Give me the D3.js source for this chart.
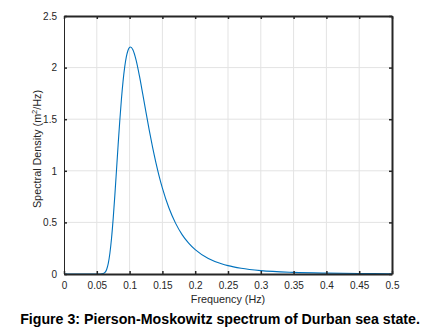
<!DOCTYPE html>
<html>
<head>
<meta charset="utf-8">
<script src="https://cdn.jsdelivr.net/npm/d3@7"></script>
<style>
  body { margin: 0; background: #fff; }
  svg { display: block; font-family: Arial, "Liberation Sans", sans-serif; }
</style>
</head>
<body>
<svg id="chart" width="435" height="335"></svg>
<script>
// frequency (Hz) and spectral density (m^2/Hz)
const freq = [0, 0.05, 0.055, 0.06, 0.0625, 0.065, 0.0675, 0.07, 0.0725, 0.075, 0.0775,
    0.08, 0.0825, 0.085, 0.0875, 0.09, 0.0925, 0.095, 0.0975, 0.1, 0.1013, 0.105, 0.11,
    0.115, 0.12, 0.125, 0.13, 0.135, 0.14, 0.145, 0.15, 0.16, 0.17, 0.18, 0.19, 0.2,
    0.22, 0.24, 0.25, 0.27, 0.3, 0.35, 0.4, 0.45, 0.5];
const density = [0, 0, 0.0001, 0.004, 0.015, 0.044, 0.103, 0.203, 0.349, 0.539, 0.762,
    1.005, 1.250, 1.483, 1.691, 1.866, 2.004, 2.103, 2.166, 2.196, 2.2, 2.173, 2.070,
    1.919, 1.745, 1.566, 1.392, 1.229, 1.082, 0.949, 0.832, 0.639, 0.493, 0.382, 0.299, 0.236,
    0.150, 0.099, 0.081, 0.056, 0.033, 0.0155, 0.008, 0.0044, 0.0026];
const xTicks = [0, 0.05, 0.1, 0.15, 0.2, 0.25, 0.3, 0.35, 0.4, 0.45, 0.5];
const yTicks = [0, 0.5, 1, 1.5, 2, 2.5];

const series = freq.map(function(f, i){ return {f: f, s: density[i]} });

let svg = d3.select('#chart');
const pLeft = 64, pRight = 392, pTop = 16, pBottom = 274;
const axisColor = '#262626';

var xScale = d3.scaleLinear().domain([0, 0.5]).range([pLeft, pRight]);
var yScale = d3.scaleLinear().domain([0, 2.5]).range([pBottom, pTop]);

// grid
svg.append('g').selectAll('line')
    .data(xTicks.slice(1, -1))
    .enter().append('line')
    .attr('x1', d => xScale(d)).attr('x2', d => xScale(d))
    .attr('y1', pTop).attr('y2', pBottom)
    .attr('stroke', '#e3e3e3').attr('stroke-width', 1);
svg.append('g').selectAll('line')
    .data(yTicks.slice(1, -1))
    .enter().append('line')
    .attr('y1', d => yScale(d)).attr('y2', d => yScale(d))
    .attr('x1', pLeft).attr('x2', pRight)
    .attr('stroke', '#e3e3e3').attr('stroke-width', 1);

// curve
var dline = d3.line()
    .x(function(d){ return xScale(d.f) })
    .y(function(d){ return yScale(d.s) })
    .curve(d3.curveMonotoneX);

svg.append('path')
    .datum(series)
    .attr('d', dline)
    .attr('fill', 'none')
    .attr('stroke', '#0072bd')
    .attr('stroke-width', 1.1);

// axes (ticks inward, MATLAB style)
let xAxis = svg.append('g')
    .attr('transform', 'translate(0,' + pBottom + ')')
    .call(d3.axisBottom(xScale).tickValues(xTicks).tickSizeInner(-3).tickSizeOuter(0).tickPadding(8)
        .tickFormat(d3.format('~g')));
let yAxis = svg.append('g')
    .attr('transform', 'translate(' + pLeft + ',0)')
    .call(d3.axisLeft(yScale).tickValues(yTicks).tickSizeInner(-3).tickSizeOuter(0).tickPadding(7)
        .tickFormat(d3.format('~g')));
let xTop = svg.append('g')
    .attr('transform', 'translate(0,' + pTop + ')')
    .call(d3.axisTop(xScale).tickValues(xTicks).tickSizeInner(-3).tickSizeOuter(0).tickFormat(''));
let yRight = svg.append('g')
    .attr('transform', 'translate(' + pRight + ',0)')
    .call(d3.axisRight(yScale).tickValues(yTicks).tickSizeInner(-3).tickSizeOuter(0).tickFormat(''));

[xAxis, yAxis, xTop, yRight].forEach(function(g){
    g.selectAll('.tick line').attr('stroke', axisColor).attr('stroke-width', 1.5);
    g.selectAll('.tick text').attr('fill', axisColor).attr('font-size', 10)
        .attr('font-family', 'Arial, "Liberation Sans", sans-serif');
    g.select('.domain').attr('stroke', axisColor);
});
yAxis.select('.domain').attr('stroke-width', 1);
xAxis.select('.domain').attr('stroke-width', 1.8);
xTop.select('.domain').attr('stroke-width', 2);
yRight.select('.domain').attr('stroke-width', 2);

// axis titles
svg.append('text')
    .attr('x', (pLeft + pRight) / 2).attr('y', 303)
    .attr('text-anchor', 'middle')
    .attr('font-size', 10.8).attr('fill', axisColor)
    .text('Frequency (Hz)');

let ylab = svg.append('text')
    .attr('transform', 'translate(41,' + ((pTop + pBottom) / 2 + 4) + ') rotate(-90)')
    .attr('text-anchor', 'middle')
    .attr('font-size', 10.8).attr('fill', axisColor);
ylab.append('tspan').text('Spectral Density (m');
ylab.append('tspan').attr('dy', -4).attr('font-size', 7.5).text('2');
ylab.append('tspan').attr('dy', 4).text('/Hz)');

// caption
svg.append('text')
    .attr('x', 220).attr('y', 324)
    .attr('text-anchor', 'middle')
    .attr('font-size', 14.2).attr('font-weight', 'bold').attr('fill', '#000')
    .text('Figure 3: Pierson-Moskowitz spectrum of Durban sea state.');
</script>
</body>
</html>
